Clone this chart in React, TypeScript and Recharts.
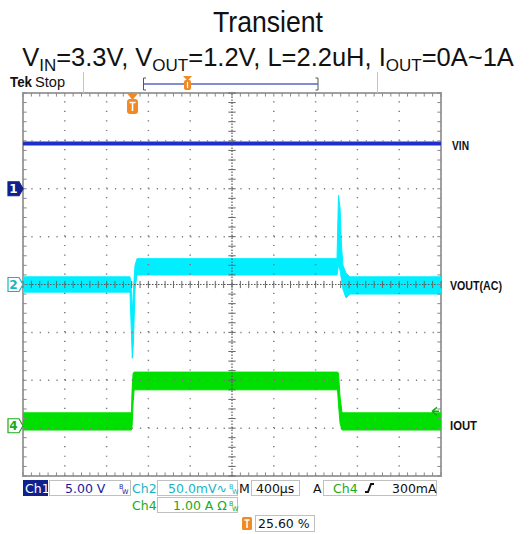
import React from 'react';
import { ComposedChart, Area, XAxis, YAxis, ReferenceLine, ReferenceArea, ReferenceDot } from 'recharts';

// scope time base: 400us/div, 10 div, trigger at 25.6% of the screen
const tStart = -1024;
const tEnd = 2976;
const triggerTime = 24;

// channel scale (units per div) and ground marker offset (div)
const ch1 = { scale: 5, offset: 2 };     // V
const ch2 = { scale: 50, offset: 0 };    // mV, AC coupled
const ch4 = { scale: 1, offset: -2.95 }; // A
const ch4TrigLevel = 0.3;

// VIN (V) - noise band
const vinTime = [-1024, 2976];
const vinLow = [4.55, 4.55];
const vinHigh = [4.9, 4.9];

// VOUT (mV, AC) - noise band
const voutTime = [-1024, 0, 10, 22, 33, 48, 67, 1981, 1995, 2010, 2024, 2038, 2067, 2105, 2976];
const voutLow = [-8, -8, -40, -77, -60, -5, 10, 10, 20, 15, 5, -5, -14, -10, -10];
const voutHigh = [8, 8, 0, -30, -5, 20, 27, 27, 93, 80, 40, 20, 12, 8, 8];

// IOUT (A) - noise band
const ioutTime = [-1024, 14, 20, 30, 40, 1986, 1995, 2010, 2029, 2976];
const ioutLow = [-0.09, -0.09, 0.0, 0.5, 0.75, 0.75, 0.45, 0.05, -0.09, -0.09];
const ioutHigh = [0.27, 0.27, 0.75, 1.1, 1.12, 1.12, 1.1, 0.6, 0.27, 0.27];

const VIN_C = '#1f2fcc';
const VOUT_C = '#00eeff';
const IOUT_C = '#00e000';

const toDiv = (v: number, ch: { scale: number; offset: number }) => ch.offset + v / ch.scale;
const band = (time: number[], lo: number[], hi: number[], ch: { scale: number; offset: number }) =>
  time.map((t, i) => ({ t, range: [toDiv(lo[i], ch), toDiv(hi[i], ch)] }));

const vinData = band(vinTime, vinLow, vinHigh, ch1);
const voutData = band(voutTime, voutLow, voutHigh, ch2);
const ioutData = band(ioutTime, ioutLow, ioutHigh, ch4);

const center = tStart + 5 * 400;
const majorX = [1, 2, 3, 4, 6, 7, 8, 9].map((k) => tStart + k * 400);
const majorY = [-3, -2, -1, 1, 2, 3];
const minorX = Array.from({ length: 51 }, (_, k) => tStart + k * 80);
const minorY = Array.from({ length: 41 }, (_, k) => -4 + k * 0.2);
const xt = 35;
const yt = 0.075;

const sans = 'Liberation Sans, Arial, sans-serif';
const tek = 'DejaVu Sans, sans-serif';

const Marker = (p: any, n: string, color: string, filled: boolean) => (
  <g>
    <path
      d={`M${p.cx - 15},${p.cy - 7} H${p.cx - 4} L${p.cx},${p.cy} L${p.cx - 4},${p.cy + 7} H${p.cx - 15} Z`}
      fill={filled ? color : '#fff'}
      stroke={color}
      strokeWidth={1.2}
    />
    <text x={p.cx - 9.5} y={p.cy + 4.5} textAnchor="middle" fontSize={12} fontWeight="bold" fontFamily={tek} fill={filled ? '#fff' : color}>
      {n}
    </text>
  </g>
);

const TrigMark = (p: any) => (
  <g>
    <path d={`M${p.cx - 5},${p.cy + 1} H${p.cx + 5} L${p.cx},${p.cy + 7} Z`} fill="#f08a24" />
    <rect x={p.cx - 5.5} y={p.cy + 6} width={11} height={15} rx={3} fill="#f08a24" />
    <path d={`M${p.cx - 3},${p.cy + 9.5} H${p.cx + 3} M${p.cx},${p.cy + 9.5} V${p.cy + 18}`} stroke="#fff" strokeWidth={1.6} />
  </g>
);

const LevelArrow = (p: any) => (
  <path d={`M${p.cx - 9},${p.cy} L${p.cx - 4},${p.cy - 4} M${p.cx - 9},${p.cy} L${p.cx - 4},${p.cy + 4} M${p.cx - 9},${p.cy} H${p.cx - 2}`} stroke="#1aaa1a" strokeWidth={1.5} fill="none" />
);

const BW = ({ x, y, c }: { x: number; y: number; c: string }) => (
  <g fill={c} fontFamily={tek} fontSize={6.5}>
    <text x={x} y={y - 5}>B</text>
    <text x={x + 3} y={y}>W</text>
  </g>
);

export default function App() {
  return (
    <div style={{ position: 'absolute', left: 0, top: 0, width: 529, height: 534, background: '#fff' }}>
      <ComposedChart width={529} height={534} margin={{ top: 93, right: 88, bottom: 58, left: 23 }}>
        <XAxis type="number" dataKey="t" domain={[tStart, tEnd]} hide allowDataOverflow />
        <YAxis type="number" domain={[-4, 4]} hide allowDataOverflow />

        {majorX.map((t) => (
          <ReferenceLine key={'vx' + t} x={t} stroke="#7a7a7a" strokeWidth={1.5} strokeDasharray="1.2 8.38" />
        ))}
        {majorY.map((y) => (
          <ReferenceLine key={'hy' + y} y={y} stroke="#7a7a7a" strokeWidth={1.5} strokeDasharray="1.2 7.16" />
        ))}
        <ReferenceLine x={center} stroke="#555" strokeWidth={1.2} strokeDasharray="1.5 1.5" />
        <ReferenceLine y={0} stroke="#555" strokeWidth={1.2} strokeDasharray="1.5 1.5" />
        {minorY.map((y) => (
          <ReferenceLine key={'cy' + y} segment={[{ x: center - xt, y }, { x: center + xt, y }]} stroke="#666" />
        ))}
        {minorX.map((t) => (
          <ReferenceLine key={'cx' + t} segment={[{ x: t, y: -yt }, { x: t, y: yt }]} stroke="#666" />
        ))}
        {minorX.map((t) => (
          <ReferenceLine key={'tx' + t} segment={[{ x: t, y: 4 }, { x: t, y: 4 - yt }]} stroke="#888" />
        ))}
        {minorX.map((t) => (
          <ReferenceLine key={'bx' + t} segment={[{ x: t, y: -4 }, { x: t, y: -4 + yt }]} stroke="#888" />
        ))}
        {minorY.map((y) => (
          <ReferenceLine key={'ly' + y} segment={[{ x: tStart, y }, { x: tStart + xt, y }]} stroke="#888" />
        ))}
        {minorY.map((y) => (
          <ReferenceLine key={'ry' + y} segment={[{ x: tEnd - xt, y }, { x: tEnd, y }]} stroke="#888" />
        ))}
        <ReferenceArea x1={tStart} x2={tEnd} y1={-4} y2={4} fill="none" stroke="#a0a0a0" strokeWidth={2} />

        <Area data={vinData} dataKey="range" type="linear" stroke={VIN_C} strokeWidth={0.5} fill={VIN_C} fillOpacity={1} dot={false} activeDot={false} isAnimationActive={false} />
        <Area data={voutData} dataKey="range" type="linear" stroke={VOUT_C} strokeWidth={1} fill={VOUT_C} fillOpacity={1} dot={false} activeDot={false} isAnimationActive={false} />
        <Area data={ioutData} dataKey="range" type="linear" stroke={IOUT_C} strokeWidth={1} fill={IOUT_C} fillOpacity={1} dot={false} activeDot={false} isAnimationActive={false} />

        <ReferenceDot x={tStart} y={ch1.offset} ifOverflow="visible" shape={(p: any) => Marker(p, '1', '#10208c', true)} />
        <ReferenceDot x={tStart} y={ch2.offset} ifOverflow="visible" shape={(p: any) => Marker(p, '2', '#19b4c4', false)} />
        <ReferenceDot x={tStart} y={ch4.offset} ifOverflow="visible" shape={(p: any) => Marker(p, '4', '#1aaa1a', false)} />
        <ReferenceDot x={triggerTime} y={4} ifOverflow="visible" shape={TrigMark} />
        <ReferenceDot x={tEnd} y={toDiv(ch4TrigLevel, ch4)} ifOverflow="visible" shape={LevelArrow} />
      </ComposedChart>

      <svg width={529} height={534} style={{ position: 'absolute', left: 0, top: 0, pointerEvents: 'none' }}>
        <g fontFamily={sans} fill="#111">
          <text x={213} y={32} fontSize={30} textLength={110} lengthAdjust="spacingAndGlyphs">Transient</text>
          <text x={268} y={66} fontSize={25.5} textAnchor="middle">
            V<tspan fontSize={17} dy={4.5}>IN</tspan>
            <tspan dy={-4.5}>=3.3V, V</tspan>
            <tspan fontSize={17} dy={4.5}>OUT</tspan>
            <tspan dy={-4.5}>=1.2V, L=2.2uH, I</tspan>
            <tspan fontSize={17} dy={4.5}>OUT</tspan>
            <tspan dy={-4.5}>=0A~1A</tspan>
          </text>

          <text x={10} y={87} fontSize={15} fontWeight="bold" textLength={22} lengthAdjust="spacingAndGlyphs">Tek</text>
          <text x={35} y={87} fontSize={14} textLength={30} lengthAdjust="spacingAndGlyphs">Stop</text>

          <text x={452} y={150} fontSize={13.5} fontWeight="bold" textLength={17} lengthAdjust="spacingAndGlyphs">VIN</text>
          <text x={450} y={290} fontSize={13.5} fontWeight="bold" textLength={52} lengthAdjust="spacingAndGlyphs">VOUT(AC)</text>
          <text x={450} y={430} fontSize={13.5} fontWeight="bold" textLength={27} lengthAdjust="spacingAndGlyphs">IOUT</text>
        </g>

        <line x1={83.5} y1={72} x2={83.5} y2={93} stroke="#c4c4c4" />
        <line x1={377.5} y1={72} x2={377.5} y2={93} stroke="#c4c4c4" />
        <path d="M146,78 H143.5 V90 H146 M315.5,78 H318 V90 H315.5" stroke="#555" fill="none" />
        <line x1={144} y1={84} x2={318} y2={84} stroke="#5a66c8" strokeWidth={1.5} />
        <path d="M183,76 H192 L187.5,81 Z" fill="#f08a24" />
        <rect x={184} y={80} width={7} height={10} rx={2} fill="#f08a24" />
        <line x1={187.5} y1={82} x2={187.5} y2={88} stroke="#fff" strokeWidth={1.2} />

        <g fontFamily={tek} fontSize={12.5}>
          <rect x={23} y={480} width={25} height={16} fill="#10208c" />
          <text x={25} y={493} fill="#fff">Ch1</text>
          <rect x={49.5} y={480.5} width={81} height={15} fill="#fff" stroke="#c0c0c0" />
          <text x={65} y={493} fill="#1a1aa0">5.00 V</text>
          <BW x={119} y={494} c="#1a1aa0" />
          <text x={132} y={493} fill="#19b4c4">Ch2</text>
          <rect x={157.5} y={480.5} width={80} height={15} fill="#fff" stroke="#c0c0c0" />
          <text x={168} y={493} fill="#19b4c4">50.0mV∿</text>
          <BW x={229} y={494} c="#19b4c4" />
          <text x={239} y={493} fill="#111">M</text>
          <rect x={251.5} y={480.5} width={48} height={15} fill="#fff" stroke="#c0c0c0" />
          <text x={256} y={493} fill="#111">400µs</text>
          <text x={313} y={493} fill="#111">A</text>
          <rect x={323.5} y={480.5} width={113} height={15} fill="#fff" stroke="#c0c0c0" />
          <text x={333} y={493} fill="#1aaa1a">Ch4</text>
          <path d="M365,492 H368 L371,484 H374" stroke="#111" strokeWidth={2} fill="none" />
          <text x={392} y={493} fill="#111">300mA</text>

          <text x={132} y={510} fill="#1aaa1a">Ch4</text>
          <rect x={157.5} y={497.5} width={80} height={15} fill="#fff" stroke="#c0c0c0" />
          <text x={173} y={510} fill="#1aaa1a">1.00 A Ω</text>
          <BW x={229} y={511} c="#1aaa1a" />

          <rect x={242} y={517} width={10} height={13} rx={1.5} fill="#f08a24" />
          <path d="M244.5,520 H249.5 M247,520 V528" stroke="#fff" strokeWidth={1.5} />
          <rect x={255.5} y={515.5} width={59} height={16} fill="#fff" stroke="#c0c0c0" />
          <text x={258} y={528} fill="#111">25.60 %</text>
        </g>
      </svg>
    </div>
  );
}
